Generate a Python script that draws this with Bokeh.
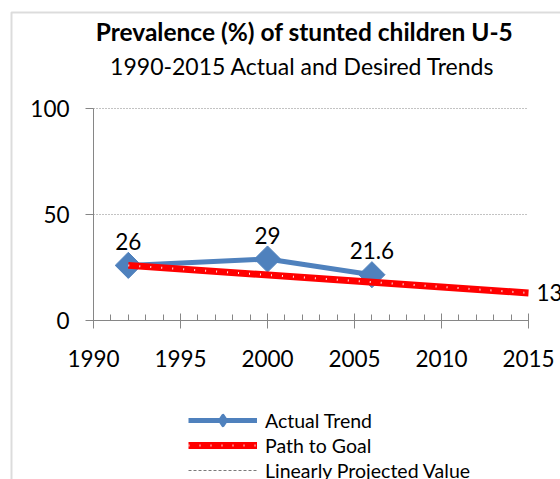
from bokeh.plotting import figure
from bokeh.models import (ColumnDataSource, Label, LabelSet, Legend, LegendItem,
                          SingleIntervalTicker, FixedTicker, Range1d, BoxAnnotation, Grid)
from bokeh.embed import file_html
from bokeh.resources import INLINE
from bokeh.core.properties import value

# ---- data ----
actual_years = [1992, 2000, 2006]
actual_values = [26, 29, 21.6]
actual_labels = ["26", "29", "21.6"]
goal_years = [1992, 2015]
goal_values = [26, 13]
goal_labels = ["", "13"]
# the projected series shows only in the legend (no visible values)
projected_years = [2006, 2015]
projected_values = [float("nan"), float("nan")]
title_text = "Prevalence (%) of stunted children U-5"
subtitle_text = "1990-2015 Actual and Desired Trends"
y_ticks = [0, 50, 100]
grid_ticks = [50, 100]
x_start, x_end = 1990, 2015
y_start, y_end = 0, 100
series_names = ["Actual Trend", "Path to Goal", "Linearly Projected Value"]

# ---- layout (pixels) ----
FONT = "Lato"
GRAY = "#868686"
BLUE = "#4F81BD"
RED = "#FF0000"
W, H = 560, 479
AX_LEFT, AX_RIGHT = 93, 528      # pixel columns of 1990 and 2015
AX_TOP, AX_BOTTOM = 108, 320     # pixel rows of 100 and 0
sx = (AX_RIGHT - AX_LEFT) / (x_end - x_start)
sy = (AX_BOTTOM - AX_TOP) / (y_end - y_start)

def dx(px):
    return x_start + (px - AX_LEFT) / sx

def dy(py):
    return y_start + (AX_BOTTOM - py) / sy

p = figure(width=W, height=H, output_backend="svg", toolbar_location=None,
           x_range=Range1d(dx(0), dx(W)), y_range=Range1d(dy(H), dy(0)),
           min_border_left=0, min_border_right=0, min_border_top=0,
           min_border_bottom=0)
p.outline_line_color = None
p.background_fill_color = "white"
p.border_fill_color = "white"

# chart-area border (left and top edges visible)
p.add_layout(BoxAnnotation(left=dx(11), top=dy(12), right=dx(W + 50), bottom=dy(H + 50),
                           fill_alpha=0, line_color="#8a8a8a", line_width=2))

# axes
xax = p.xaxis[0]
xax.fixed_location = y_start
xax.bounds = (x_start, x_end)
xax.ticker = SingleIntervalTicker(interval=5, num_minor_ticks=5)
xax.axis_line_color = GRAY
xax.major_tick_line_color = GRAY
xax.minor_tick_line_color = GRAY
xax.major_tick_in = 7
xax.major_tick_out = 8
xax.minor_tick_in = 6
xax.minor_tick_out = 0
xax.major_label_text_font = FONT
xax.major_label_text_font_size = "22.5px"
xax.major_label_text_color = "black"
xax.major_label_standoff = 21

yax = p.yaxis[0]
yax.fixed_location = x_start
yax.bounds = (y_start, y_end)
yax.ticker = FixedTicker(ticks=y_ticks)
yax.axis_line_color = GRAY
yax.major_tick_line_color = GRAY
yax.minor_tick_line_color = None
yax.major_tick_in = 0
yax.major_tick_out = 8
yax.major_label_text_font = FONT
yax.major_label_text_font_size = "22.5px"
yax.major_label_text_color = "black"
yax.major_label_standoff = 16

p.xgrid.grid_line_color = None
yg = p.ygrid[0]
yg.ticker = FixedTicker(ticks=grid_ticks)
yg.grid_line_color = GRAY
yg.grid_line_dash = "1 2"
yg.grid_line_width = 1
if "cross_bounds" in Grid.properties():
    yg.cross_bounds = (x_start, x_end)

# series
src_a = ColumnDataSource(dict(x=actual_years, y=actual_values, t=actual_labels))
src_g = ColumnDataSource(dict(x=goal_years, y=goal_values, t=goal_labels))
src_p = ColumnDataSource(dict(x=projected_years, y=projected_values))

r_a_line = p.line("x", "y", source=src_a, line_color=BLUE, line_width=5)
# small diamonds hidden under the big markers: they give the legend its diamond glyph
r_a_leg = p.scatter("x", "y", source=src_a, marker="diamond", size=9,
                    fill_color=BLUE, line_color=BLUE, line_width=3.5, line_join="round")
r_a_mark = p.scatter("x", "y", source=src_a, marker="square", angle=0.785398,
                     size=18.5, fill_color=BLUE, line_color=BLUE)
r_g_line = p.line("x", "y", source=src_g, line_color=RED, line_width=7)
r_g_dots = p.line("x", "y", source=src_g, line_color="white", line_alpha=0.9,
                  line_width=2, line_dash="1 10")
r_p_line = p.line("x", "y", source=src_p, line_color="#7a7a7a", line_width=1,
                  line_dash="3 2")

# data labels
p.add_layout(LabelSet(x="x", y="y", text="t", source=src_a, y_offset=24,
                      text_align="center", text_baseline="middle",
                      text_font=value(FONT), text_font_size=value("22.5px"),
                      text_color="black"))
p.add_layout(LabelSet(x="x", y="y", text="t", source=src_g, x_offset=8,
                      text_align="left", text_baseline="middle",
                      text_font=value(FONT), text_font_size=value("22.5px"),
                      text_color="black"))

# titles
p.add_layout(Label(x=dx(304), y=dy(31), text=title_text, text_align="center",
                   text_baseline="middle", text_font=FONT, text_font_style="bold",
                   text_font_size="24.5px", text_color="black"))
p.add_layout(Label(x=dx(302), y=dy(65), text=subtitle_text, text_align="center",
                   text_baseline="middle", text_font=FONT,
                   text_font_size="23px", text_color="black"))

legend = Legend(items=[
    LegendItem(label=series_names[0], renderers=[r_a_line, r_a_leg]),
    LegendItem(label=series_names[1], renderers=[r_g_line, r_g_dots]),
    LegendItem(label=series_names[2], renderers=[r_p_line]),
], location=(188, -3), orientation="vertical",
    glyph_width=69, glyph_height=24, label_height=20, spacing=1,
    label_standoff=8, padding=0, margin=0,
    border_line_color=None, background_fill_alpha=0,
    label_text_font=FONT, label_text_font_size="19.5px", label_text_color="black")
p.add_layout(legend, "center")

open("out.html", "w").write(file_html(p, INLINE))
